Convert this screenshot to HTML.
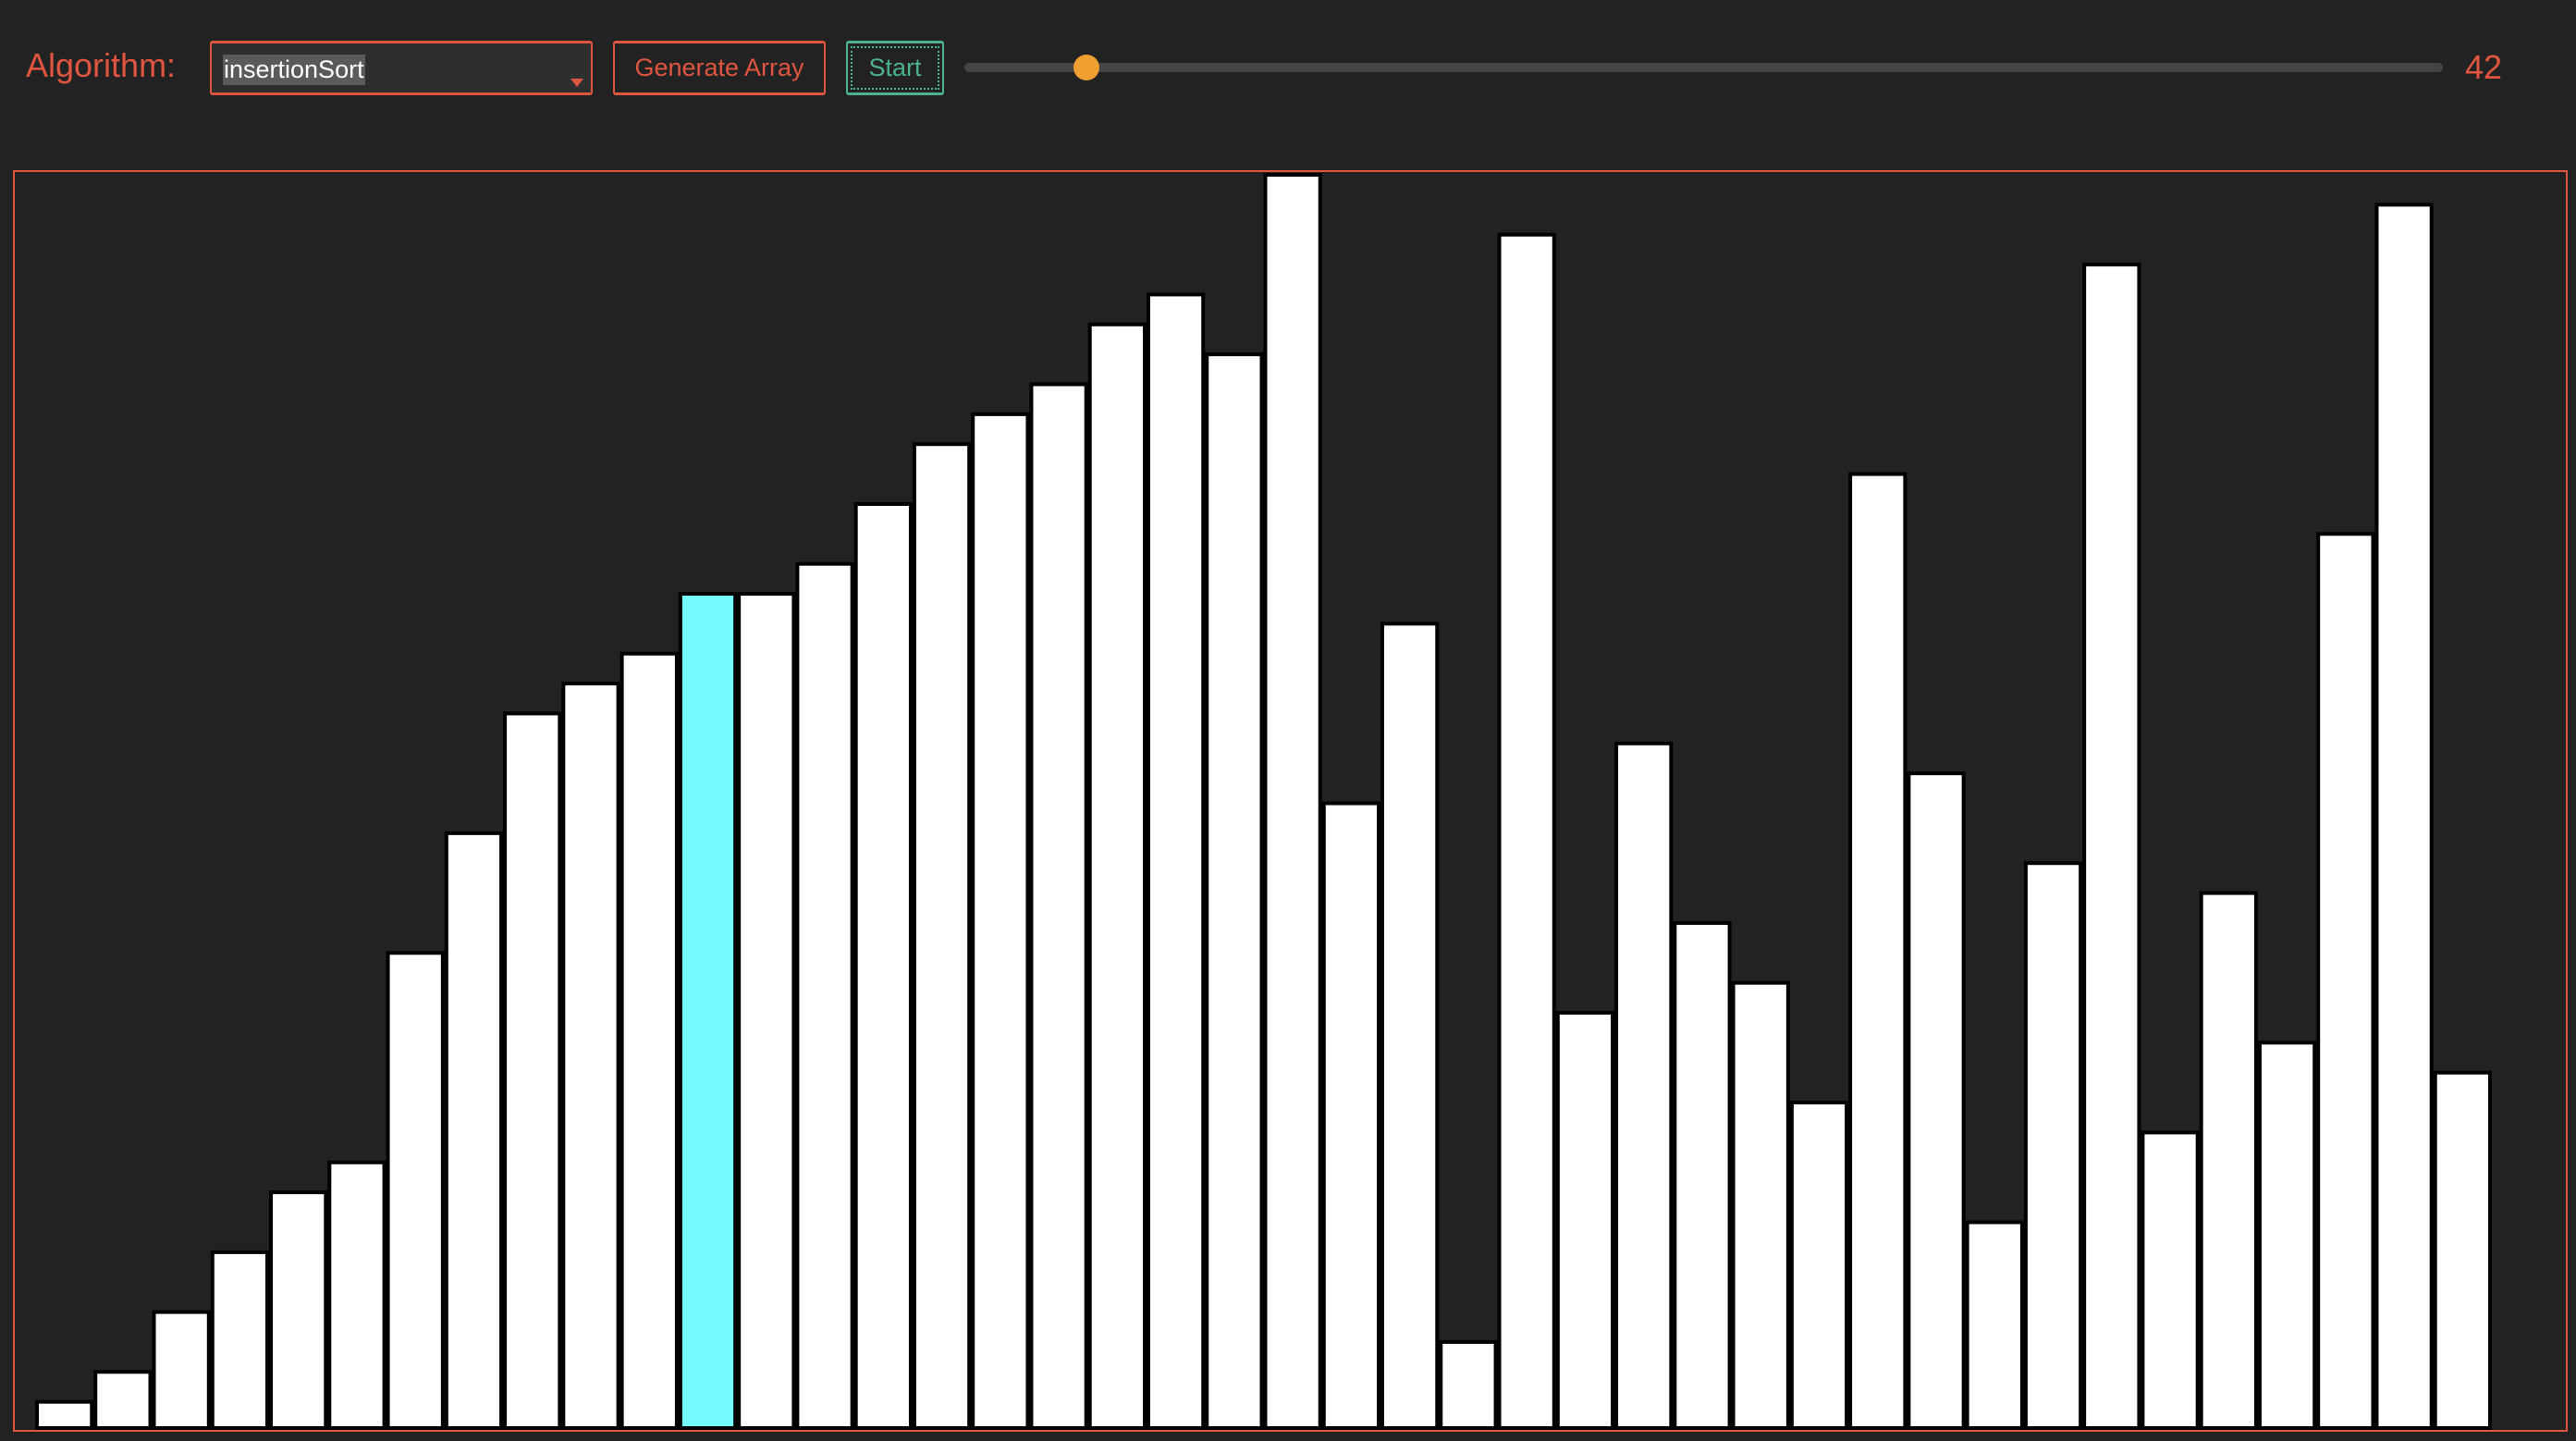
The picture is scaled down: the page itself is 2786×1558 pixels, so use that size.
<!DOCTYPE html>
<html><head><meta charset="utf-8">
<style>
html,body{margin:0;padding:0;background:#222;width:2786px;height:1558px;overflow:hidden;font-family:"Liberation Sans",sans-serif;}
.abs{position:absolute;box-sizing:border-box;}
#label{left:28px;top:50px;font-size:36px;color:#e0553f;}
#sel{left:227px;top:44px;width:414px;height:59px;background:#2e2e2e;border:2px solid #e0553f;border-top-width:3px;border-bottom-width:3px;border-radius:3px;}
#sel span{position:absolute;left:12px;top:12px;background:#5a5a5a;color:#fff;font-size:27px;padding:1px 1px;}
#sel i{position:absolute;right:8px;top:38px;width:0;height:0;border-left:7px solid transparent;border-right:7px solid transparent;border-top:9px solid #e0553f;}
#gen{left:663px;top:44px;width:230px;height:59px;border:2px solid #e0553f;border-top-width:3px;border-bottom-width:3px;border-radius:3px;color:#e0553f;font-size:27px;text-align:center;line-height:53px;}
#start{left:915px;top:44px;width:106px;height:59px;border:2px solid #4cb38a;border-top-width:3px;border-bottom-width:3px;border-radius:3px;color:#4cb38a;font-size:27px;text-align:center;line-height:53px;}
#start b{position:absolute;left:3px;top:3px;right:3px;bottom:3px;border:2px dotted #4cb38a;font-weight:normal;}
#track{left:1043px;top:68px;width:1599px;height:10px;background:#444;border-radius:5px;}
#thumb{left:1161px;top:59px;width:28px;height:28px;background:#f0a030;border-radius:50%;}
#val{left:2666px;top:52px;font-size:36px;color:#e0553f;}
#box{left:14px;top:184px;width:2763px;height:1364px;border:2px solid #e0553f;}
</style></head><body>
<div class="abs" id="label">Algorithm:</div>
<div class="abs" id="sel"><span>insertionSort</span><i></i></div>
<div class="abs" id="gen">Generate Array</div>
<div class="abs" id="start"><b></b>Start</div>
<div class="abs" id="track"></div>
<div class="abs" id="thumb"></div>
<div class="abs" id="val">42</div>
<svg class="abs" style="left:0;top:0" width="2786" height="1558" id="chart"></svg>
<div class="abs" id="box"></div>
<script>
const values=[1,2,4,6,8,9,16,20,24,25,26,28,28,29,31,33,34,35,37,38,36,42,21,27,3,40,14,23,17,15,11,32,22,7,19,39,10,18,13,30,41,12];
const highlighted=[11];
const maxValue=42;
const svg=document.getElementById('chart');
const x0=38,x1=2695,yBottom=1546,yTop=187;
const step=(x1-x0)/values.length;
function xPos(i){return x0+i*step;}
function yPos(v){return yBottom-(v/maxValue)*(yBottom-yTop);}
values.forEach((v,i)=>{
  const r=document.createElementNS('http://www.w3.org/2000/svg','rect');
  r.setAttribute('x',xPos(i)+2);
  r.setAttribute('y',yPos(v)+2);
  r.setAttribute('width',step-4);
  r.setAttribute('height',Math.max(1,yBottom-yPos(v)-4));
  r.setAttribute('fill',highlighted.includes(i)?'#74fbfd':'#fff');
  r.setAttribute('stroke','#000');
  r.setAttribute('stroke-width','4');
  
  
  svg.appendChild(r);
});
</script>
</body></html>
